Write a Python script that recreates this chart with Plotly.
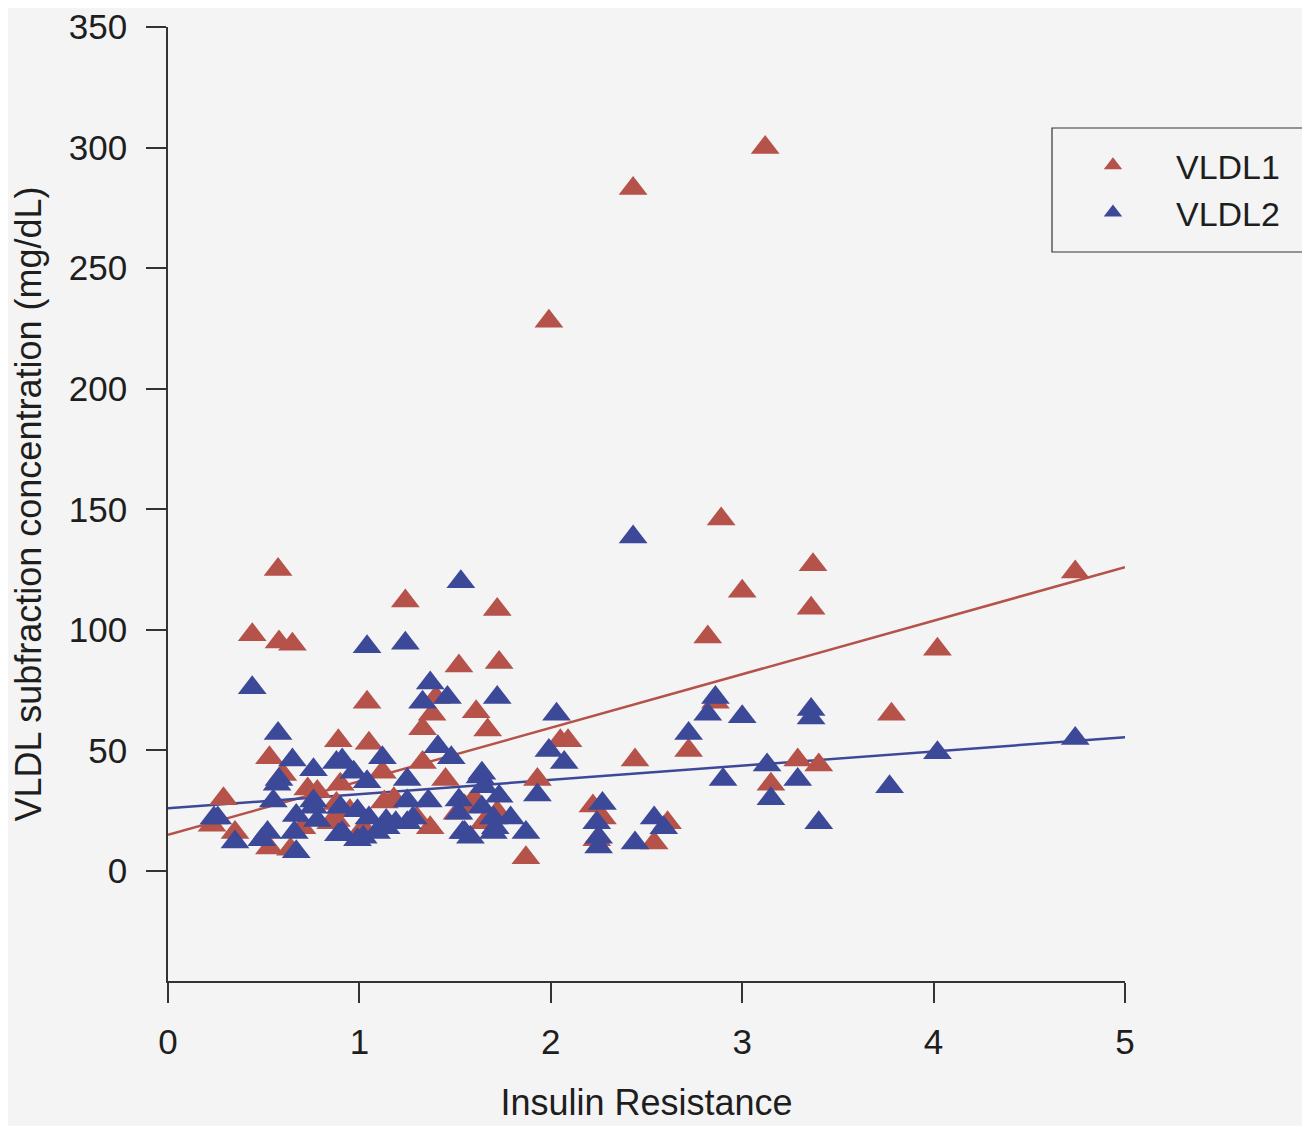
import plotly.graph_objects as go

# ---- data ----
vldl1_x = [0.23, 0.29, 0.35, 0.44, 0.53, 0.53, 0.575, 0.58, 0.65, 0.64, 0.60, 0.70, 0.73, 0.78, 0.85,
           0.89, 0.88, 0.88, 0.90, 0.95, 1.02, 1.04, 1.05, 1.12, 1.13, 1.18, 1.24, 1.30, 1.33, 1.33,
           1.37, 1.38, 1.40, 1.45, 1.51, 1.52, 1.55, 1.60, 1.61, 1.65, 1.67, 1.72, 1.72, 1.73, 1.87,
           1.93, 1.99, 2.05, 2.09, 2.22, 2.24, 2.27, 2.43, 2.44, 2.54, 2.61, 2.72, 2.82, 2.86, 2.89,
           3.00, 3.12, 3.15, 3.29, 3.36, 3.37, 3.40, 3.78, 4.02, 4.74]
vldl1_y = [19, 30, 16, 98, 47, 9.5, 125, 95, 94, 9, 40, 18, 34, 33, 20,
           54, 21, 28, 36, 25, 18, 70, 53, 41, 28.6, 30, 112, 22, 59, 45,
           18, 65, 72, 38, 24, 85, 27, 30, 66, 20, 58.5, 24.5, 108.5, 86.5, 5.5,
           38, 228, 54, 54, 27, 13, 22, 283, 46, 11.6, 20, 50, 97, 70, 146,
           116, 300, 36, 46, 109, 127, 44, 65, 92, 124]

vldl2_x = [0.24, 0.26, 0.35, 0.44, 0.49, 0.52, 0.55, 0.575, 0.57, 0.58, 0.65, 0.66, 0.67, 0.67,
           0.76, 0.76, 0.76, 0.78, 0.88, 0.89, 0.91, 0.90, 0.91, 0.97, 0.99, 0.99, 1.02, 1.04, 1.04,
           1.05, 1.09, 1.12, 1.14, 1.14, 1.19, 1.24, 1.25, 1.25, 1.25, 1.28, 1.33, 1.36, 1.37, 1.41,
           1.46, 1.48, 1.52, 1.52, 1.53, 1.54, 1.55, 1.58, 1.63, 1.64, 1.64, 1.65, 1.70, 1.70, 1.71,
           1.72, 1.73, 1.79, 1.87, 1.93, 1.99, 2.03, 2.07, 2.24, 2.25, 2.25, 2.27, 2.43, 2.44, 2.54,
           2.59, 2.72, 2.82, 2.86, 2.90, 3.00, 3.13, 3.15, 3.29, 3.36, 3.36, 3.40, 3.77, 4.02, 4.74]
vldl2_y = [22, 22, 12, 76, 13, 16, 29, 57, 36, 38, 46, 16, 23, 8,
           42, 29, 26.5, 21, 45, 15, 46, 26.5, 16, 41, 25, 13, 14, 93, 37,
           22, 16, 47, 18, 21, 20, 94.5, 38, 29, 20, 22, 70, 29, 78, 51.5,
           72, 47, 29.5, 24, 120, 16, 16, 14, 39, 40.6, 26.5, 35, 16, 22, 18,
           72, 31, 22, 16, 31.5, 50, 65, 45, 20, 14, 10, 28, 138.5, 11.6, 22,
           18, 57, 65, 72, 38, 64, 44, 30, 38, 67, 63.5, 20, 35, 49, 55]

# regression lines (end points)
fit_x = [0, 5]
vldl1_fit = [15, 126]
vldl2_fit = [26, 55.5]

x_ticks = [0, 1, 2, 3, 4, 5]
y_ticks = [0, 50, 100, 150, 200, 250, 300, 350]

RED = "#b5524a"
BLUE = "#3c4898"
FONT = "Liberation Sans, Arial, sans-serif"
TXT = "#1e1e1e"

fig = go.Figure()
fig.add_trace(go.Scatter(x=fit_x, y=vldl1_fit, mode="lines", line=dict(color=RED, width=2.5),
                         showlegend=False, hoverinfo="skip"))
fig.add_trace(go.Scatter(x=fit_x, y=vldl2_fit, mode="lines", line=dict(color=BLUE, width=2.5),
                         showlegend=False, hoverinfo="skip"))
fig.add_trace(go.Scatter(x=vldl1_x, y=vldl1_y, mode="markers", name="VLDL1",
                         marker=dict(symbol="triangle-up", size=25, color=RED, line=dict(width=0))))
fig.add_trace(go.Scatter(x=vldl2_x, y=vldl2_y, mode="markers", name="VLDL2",
                         marker=dict(symbol="triangle-up", size=25, color=BLUE, line=dict(width=0))))

axis_common = dict(showgrid=False, zeroline=False, showline=True, linecolor="#333333", linewidth=1.5,
                   ticks="outside", ticklen=20, tickwidth=1.5, tickcolor="#333333",
                   ticklabeloverflow="allow", automargin=False,
                   tickfont=dict(family=FONT, size=35, color=TXT))

fig.update_xaxes(range=[0, 5], tickvals=x_ticks, ticklabelstandoff=9,
                 title=dict(text="Insulin Resistance", font=dict(family=FONT, size=36, color=TXT),
                            standoff=30),
                 **axis_common)
fig.update_yaxes(range=[-45.6, 350], tickvals=y_ticks, ticklabelstandoff=12,
                 title=dict(text="VLDL subfraction concentration (mg/dL)",
                            font=dict(family=FONT, size=36, color=TXT), standoff=18),
                 **axis_common)

PL, PT, PW, PH = 160, 19, 957, 954  # plot area placement inside the figure
fig.update_layout(
    width=1302, height=1118,
    margin=dict(l=PL, r=1302 - PL - PW, t=PT, b=1118 - PT - PH),
    paper_bgcolor="#f4f4f4", plot_bgcolor="#f4f4f4",
    showlegend=True,
    legend=dict(x=0.9216, y=0.885, xanchor="left", yanchor="top",
                bgcolor="rgba(0,0,0,0)", borderwidth=0,
                font=dict(family=FONT, size=34, color=TXT),
                itemwidth=116, tracegroupgap=0),
    shapes=[dict(type="rect", xref="paper", yref="paper",
                 x0=(1052 - 168) / 957, x1=(1307 - 168) / 957,
                 y0=(981 - 252) / 954, y1=(981 - 128) / 954,
                 line=dict(color="#333333", width=1.2), fillcolor="rgba(0,0,0,0)")],
)

fig.write_html("out.html")
